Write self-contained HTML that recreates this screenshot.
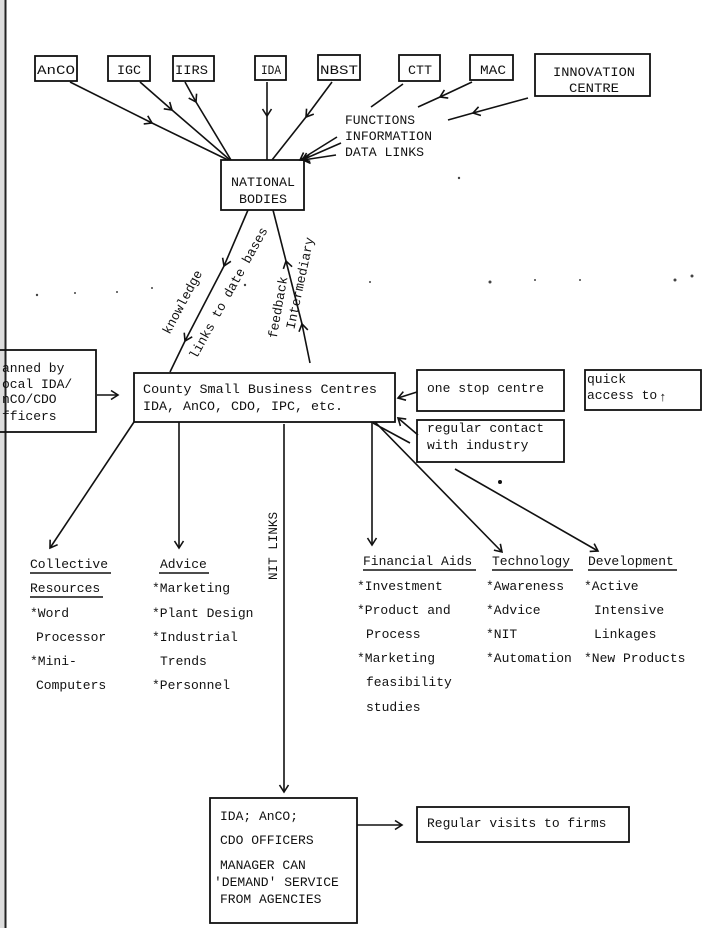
<!DOCTYPE html>
<html><head><meta charset="utf-8"><style>
html,body{margin:0;padding:0;background:#fff}
svg{display:block}
text{font-family:"Liberation Mono","DejaVu Sans Mono",monospace;font-size:13px;fill:#111}
</style></head><body>
<svg width="718" height="928" viewBox="0 0 718 928" xmlns="http://www.w3.org/2000/svg">
<defs>
<marker id="a" markerWidth="12" markerHeight="12" refX="9" refY="6" orient="auto" markerUnits="userSpaceOnUse">
<path d="M2,1.5 L9,6 L2,10.5" fill="none" stroke="#111" stroke-width="1.6"/></marker>
</defs>
<rect x="0" y="0" width="5" height="928" fill="#ddd"/>
<line x1="5.5" y1="0" x2="5.5" y2="928" stroke="#222" stroke-width="2"/>
<g fill="none" stroke="#111" stroke-width="1.8">
<rect x="35" y="56" width="42" height="25"/>
<rect x="108" y="56" width="42" height="25"/>
<rect x="173" y="56" width="41" height="25"/>
<rect x="255" y="56" width="31" height="24"/>
<rect x="318" y="55" width="42" height="25"/>
<rect x="399" y="55" width="41" height="26"/>
<rect x="470" y="55" width="43" height="25"/>
<rect x="535" y="54" width="115" height="42"/>
<rect x="221" y="160" width="83" height="50"/>
<rect x="-2" y="350" width="98" height="82"/>
<rect x="134" y="373" width="261" height="49"/>
<rect x="417" y="370" width="147" height="41"/>
<rect x="417" y="420" width="147" height="42"/>
<rect x="585" y="370" width="116" height="40"/>
<rect x="210" y="798" width="147" height="125"/>
<rect x="417" y="807" width="212" height="35"/>
</g>
<g fill="none" stroke="#111" stroke-width="1.6" marker-end="url(#a)">
<line x1="70" y1="82" x2="152" y2="123"/>
<line x1="140" y1="82" x2="172" y2="110"/>
<line x1="185" y1="82" x2="196" y2="102"/>
<line x1="267" y1="82" x2="267" y2="116"/>
<line x1="332" y1="82" x2="306" y2="117"/>
<line x1="472" y1="82" x2="440" y2="97"/>
<line x1="528" y1="98" x2="473" y2="113"/>
<line x1="248" y1="210" x2="224" y2="266"/>
<line x1="224" y1="266" x2="185" y2="341"/>
<line x1="310" y1="363" x2="302" y2="324"/>
<line x1="302" y1="324" x2="286" y2="261"/>
<line x1="97" y1="395" x2="118" y2="395"/>
<line x1="417" y1="392" x2="398" y2="398"/>
<line x1="418" y1="435" x2="398" y2="418"/>
<line x1="134" y1="422" x2="50" y2="548"/>
<line x1="179" y1="422" x2="179" y2="548"/>
<line x1="284" y1="424" x2="284" y2="792"/>
<line x1="372" y1="422" x2="372" y2="545"/>
<line x1="375" y1="422" x2="502" y2="552"/>
<line x1="455" y1="469" x2="598" y2="551"/>
<line x1="357" y1="825" x2="402" y2="825"/>
<line x1="337" y1="137" x2="300" y2="160"/>
<line x1="341" y1="143" x2="302" y2="160"/>
<line x1="336" y1="155" x2="303" y2="160"/>
</g>
<g fill="none" stroke="#111" stroke-width="1.6">
<line x1="152" y1="123" x2="228" y2="160"/>
<line x1="172" y1="110" x2="230" y2="160"/>
<line x1="196" y1="102" x2="231" y2="160"/>
<line x1="267" y1="116" x2="267" y2="160"/>
<line x1="306" y1="117" x2="272" y2="160"/>
<line x1="403" y1="84" x2="371" y2="107"/>
<line x1="440" y1="97" x2="418" y2="107"/>
<line x1="473" y1="113" x2="448" y2="120"/>
<line x1="185" y1="341" x2="170" y2="372"/>
<line x1="286" y1="261" x2="273" y2="210"/>
<line x1="373" y1="423" x2="410" y2="443"/>
</g>
<circle cx="500" cy="482" r="2" fill="#111"/>
<g fill="#444">
<circle cx="37" cy="295" r="1.2"/><circle cx="75" cy="293" r="1"/><circle cx="117" cy="292" r="1"/><circle cx="152" cy="288" r="1"/><circle cx="245" cy="285" r="1.2"/><circle cx="370" cy="282" r="1"/><circle cx="490" cy="282" r="1.5"/><circle cx="535" cy="280" r="1"/><circle cx="580" cy="280" r="1"/><circle cx="675" cy="280" r="1.5"/><circle cx="692" cy="276" r="1.5"/><circle cx="459" cy="178" r="1.2"/>
</g>
<text x="37" y="74" textLength="38" lengthAdjust="spacingAndGlyphs">AnCO</text>
<text x="117" y="74" textLength="24" lengthAdjust="spacingAndGlyphs">IGC</text>
<text x="175" y="74" textLength="33" lengthAdjust="spacingAndGlyphs">IIRS</text>
<text x="261" y="74" textLength="20" lengthAdjust="spacingAndGlyphs">IDA</text>
<text x="320" y="74" textLength="38" lengthAdjust="spacingAndGlyphs">NBST</text>
<text x="408" y="74" textLength="24" lengthAdjust="spacingAndGlyphs">CTT</text>
<text x="480" y="74" textLength="26" lengthAdjust="spacingAndGlyphs">MAC</text>
<text x="553" y="76" textLength="82" lengthAdjust="spacingAndGlyphs">INNOVATION</text>
<text x="569" y="92" textLength="50" lengthAdjust="spacingAndGlyphs">CENTRE</text>
<text x="345" y="124" textLength="70" lengthAdjust="spacingAndGlyphs">FUNCTIONS</text>
<text x="345" y="140" textLength="87" lengthAdjust="spacingAndGlyphs">INFORMATION</text>
<text x="345" y="156" textLength="79" lengthAdjust="spacingAndGlyphs">DATA LINKS</text>
<text x="231" y="186" textLength="64" lengthAdjust="spacingAndGlyphs">NATIONAL</text>
<text x="239" y="203" textLength="48" lengthAdjust="spacingAndGlyphs">BODIES</text>
<text transform="translate(186,304) rotate(-62)" text-anchor="middle">knowledge</text>
<text transform="translate(232,295) rotate(-61)" text-anchor="middle">links to date bases</text>
<text transform="translate(282,308) rotate(-80)" text-anchor="middle">feedback</text>
<text transform="translate(304,284) rotate(-78)" text-anchor="middle">Intermediary</text>
<text x="2" y="372">anned by</text>
<text x="2" y="388">ocal IDA/</text>
<text x="2" y="403">nCO/CDO</text>
<text x="2" y="420">fficers</text>
<text x="143" y="393" textLength="234" lengthAdjust="spacingAndGlyphs">County Small Business Centres</text>
<text x="143" y="410" textLength="200" lengthAdjust="spacingAndGlyphs">IDA, AnCO, CDO, IPC, etc.</text>
<text x="427" y="392" font-size="14">one stop centre</text>
<text x="427" y="432" font-size="14">regular contact</text>
<text x="427" y="449" font-size="14">with industry</text>
<text x="587" y="383">quick</text>
<text x="587" y="399">access to</text>
<text x="659" y="401" font-size="17" font-family="DejaVu Sans">↑</text>
<text transform="translate(277,580) rotate(-90)" textLength="68" lengthAdjust="spacingAndGlyphs">NIT LINKS</text>
<g>
<text x="30" y="568">Collective</text><line x1="30" y1="573" x2="111" y2="573" stroke="#111" stroke-width="1.5"/>
<text x="30" y="592">Resources</text><line x1="30" y1="597" x2="103" y2="597" stroke="#111" stroke-width="1.5"/>
<text x="30" y="617">*Word</text>
<text x="36" y="641">Processor</text>
<text x="30" y="665">*Mini-</text>
<text x="36" y="689">Computers</text>
<text x="160" y="568">Advice</text><line x1="159" y1="573" x2="209" y2="573" stroke="#111" stroke-width="1.5"/>
<text x="152" y="592">*Marketing</text>
<text x="152" y="617">*Plant Design</text>
<text x="152" y="641">*Industrial</text>
<text x="160" y="665">Trends</text>
<text x="152" y="689">*Personnel</text>
<text x="363" y="565">Financial Aids</text><line x1="363" y1="570" x2="476" y2="570" stroke="#111" stroke-width="1.5"/>
<text x="357" y="590">*Investment</text>
<text x="357" y="614">*Product and</text>
<text x="366" y="638">Process</text>
<text x="357" y="662">*Marketing</text>
<text x="366" y="686">feasibility</text>
<text x="366" y="711">studies</text>
<text x="492" y="565">Technology</text><line x1="492" y1="570" x2="573" y2="570" stroke="#111" stroke-width="1.5"/>
<text x="486" y="590">*Awareness</text>
<text x="486" y="614">*Advice</text>
<text x="486" y="638">*NIT</text>
<text x="486" y="662">*Automation</text>
<text x="588" y="565">Development</text><line x1="588" y1="570" x2="677" y2="570" stroke="#111" stroke-width="1.5"/>
<text x="584" y="590">*Active</text>
<text x="594" y="614">Intensive</text>
<text x="594" y="638">Linkages</text>
<text x="584" y="662">*New Products</text>
</g>
<text x="220" y="820">IDA; AnCO;</text>
<text x="220" y="844">CDO OFFICERS</text>
<text x="220" y="869">MANAGER CAN</text>
<text x="214" y="886">'DEMAND' SERVICE</text>
<text x="220" y="903">FROM AGENCIES</text>
<text x="427" y="827" font-size="14">Regular visits to firms</text>
</svg>
</body></html>
